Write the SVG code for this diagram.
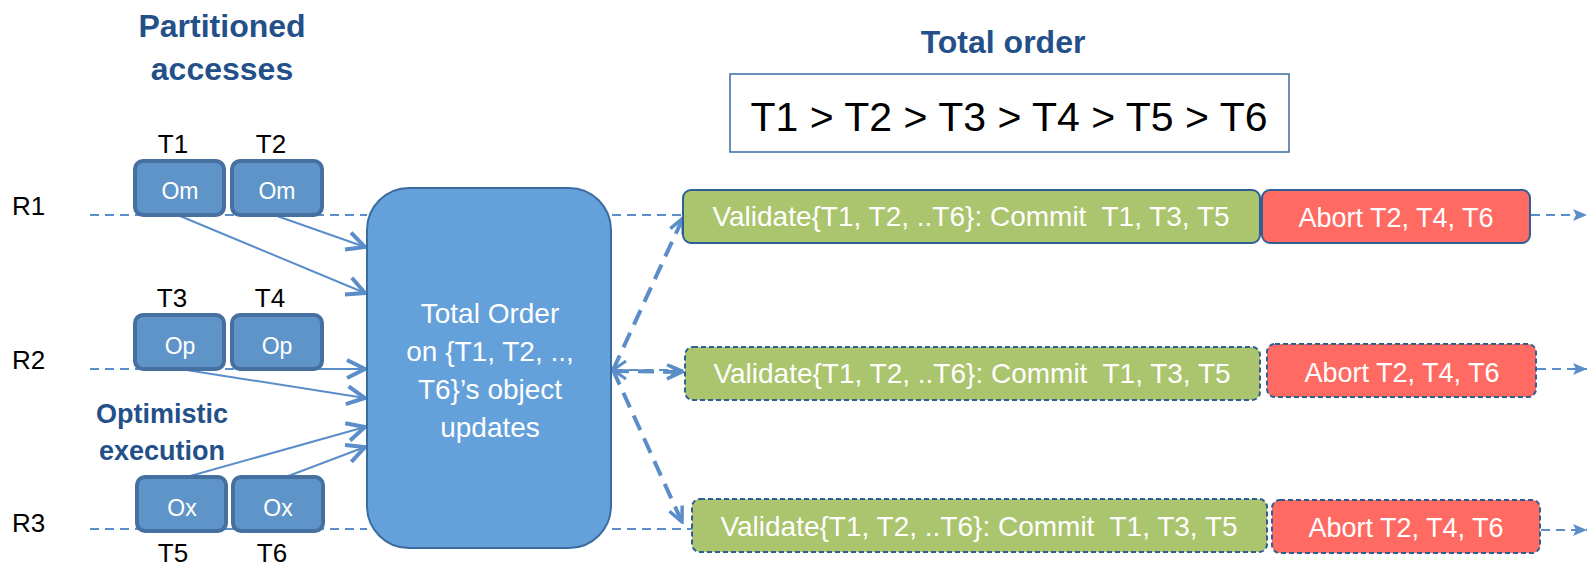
<svg xmlns="http://www.w3.org/2000/svg" width="1589" height="569" viewBox="0 0 1589 569">
<defs>
<style>
text{font-family:"Liberation Sans",Arial,sans-serif;}
.title{font-weight:bold;font-size:32px;fill:#24508a;text-anchor:middle;}
.sub{font-weight:bold;font-size:27px;fill:#24508a;text-anchor:middle;}
.lbl{font-size:26px;fill:#000;}
.tlbl{font-size:26px;fill:#000;text-anchor:middle;}
.small{stroke:#45709f;stroke-width:4;fill:#5f94c9;}
.smalltxt{font-size:23px;fill:#fff;text-anchor:middle;}
.big{stroke:#3a6ca2;stroke-width:2;fill:#64a0da;}
.bigtxt{font-size:28px;fill:#fff;text-anchor:middle;}
.green{fill:#abc46e;stroke:#2f5f94;stroke-width:2;}
.red{fill:#ff6a63;stroke:#2f5f94;stroke-width:2;}
.dash{stroke-dasharray:5,3;}
.boxtxt{font-size:28px;fill:#fff;text-anchor:middle;white-space:pre;}
.thin{stroke:#5b8ec9;stroke-width:2;fill:none;stroke-dasharray:9,6;}
.solid{stroke:#5b8ec9;stroke-width:2;fill:none;}
.thick{stroke:#5b8ec9;stroke-width:4;fill:none;stroke-dasharray:16,9;}
</style>
<marker id="chev" viewBox="0 0 24 24" refX="21" refY="12" markerWidth="24" markerHeight="24" markerUnits="userSpaceOnUse" orient="auto">
<path d="M3,3 L21,12 L3,21" fill="none" stroke="#5b8ec9" stroke-width="4" stroke-linejoin="miter"/>
</marker>
<marker id="chev2" viewBox="0 0 20 20" refX="18" refY="10" markerWidth="20" markerHeight="20" markerUnits="userSpaceOnUse" orient="auto">
<path d="M3,3 L18,10 L3,17" fill="none" stroke="#5b8ec9" stroke-width="3.5"/>
</marker>
<marker id="tri" viewBox="0 0 14 12" refX="14" refY="6" markerWidth="14" markerHeight="12" markerUnits="userSpaceOnUse" orient="auto">
<path d="M0,0 L14,6 L0,12 L3,6 Z" fill="#5b8ec9"/>
</marker>
</defs>
<rect width="1589" height="569" fill="#fff"/>

<g id="titles">
<text class="title" x="222" y="37">Partitioned</text>
<text class="title" x="222" y="80">accesses</text>
<text class="title" x="1003" y="53">Total order</text>
<text class="sub" x="162" y="423">Optimistic</text>
<text class="sub" x="162" y="460">execution</text>
</g>

<g id="row-labels">
<text class="lbl" x="12" y="215">R1</text>
<text class="lbl" x="12" y="369">R2</text>
<text class="lbl" x="12" y="532">R3</text>
</g>

<g id="connectors">
<line class="thin" x1="90" y1="215" x2="367" y2="215"/>
<line class="thin" x1="612" y1="215" x2="683" y2="215"/>
<line class="thin" x1="90" y1="369" x2="300" y2="369"/>
<line class="thin" x1="90" y1="529" x2="367" y2="529"/>
<line class="thin" x1="612" y1="529" x2="692" y2="529"/>
<line class="thin" x1="1531" y1="215" x2="1587" y2="215" marker-end="url(#tri)"/>
<line class="thin" x1="1537" y1="369" x2="1587" y2="369" marker-end="url(#tri)"/>
<line class="thin" x1="1541" y1="530" x2="1587" y2="530" marker-end="url(#tri)"/>
<line class="thin" x1="614" y1="370" x2="684" y2="370" marker-end="url(#tri)"/>
<path d="M626,361 L613,370 L626,379" fill="none" stroke="#5b8ec9" stroke-width="3"/>
<line class="solid" x1="180" y1="216" x2="365" y2="293" marker-end="url(#chev)"/>
<line class="solid" x1="277" y1="216" x2="365" y2="247" marker-end="url(#chev)"/>
<line class="solid" x1="300" y1="369" x2="365" y2="369" marker-end="url(#chev)"/>
<line class="solid" x1="180" y1="369" x2="365" y2="398" marker-end="url(#chev)"/>
<line class="solid" x1="183" y1="478" x2="365" y2="427" marker-end="url(#chev)"/>
<line class="solid" x1="283" y1="478" x2="365" y2="447" marker-end="url(#chev)"/>
<line class="thick" x1="613" y1="370" x2="683" y2="218" marker-end="url(#chev2)"/>
<line class="thick" x1="613" y1="371" x2="682" y2="372" marker-end="url(#chev2)"/>
<line class="thick" x1="613" y1="370" x2="682" y2="522" marker-end="url(#chev2)"/>
</g>

<g id="T1">
<text class="tlbl" x="173" y="153">T1</text>
<rect class="small" x="135" y="161" width="89" height="54" rx="8"/>
<text class="smalltxt" x="180" y="199">Om</text>
</g>
<g id="T2">
<text class="tlbl" x="271" y="153">T2</text>
<rect class="small" x="232" y="161" width="90" height="54" rx="8"/>
<text class="smalltxt" x="277" y="199">Om</text>
</g>
<g id="T3">
<text class="tlbl" x="172" y="307">T3</text>
<rect class="small" x="135" y="315" width="89" height="54" rx="8"/>
<text class="smalltxt" x="180" y="354">Op</text>
</g>
<g id="T4">
<text class="tlbl" x="270" y="307">T4</text>
<rect class="small" x="232" y="315" width="90" height="54" rx="8"/>
<text class="smalltxt" x="277" y="354">Op</text>
</g>
<g id="T5">
<rect class="small" x="137" y="477" width="89" height="54" rx="8"/>
<text class="smalltxt" x="182" y="516">Ox</text>
<text class="tlbl" x="173" y="562">T5</text>
</g>
<g id="T6">
<rect class="small" x="233" y="477" width="90" height="54" rx="8"/>
<text class="smalltxt" x="278" y="516">Ox</text>
<text class="tlbl" x="272" y="562">T6</text>
</g>

<g id="total-order-node">
<rect class="big" x="367" y="188" width="244" height="360" rx="42"/>
<text class="bigtxt" x="490" y="323">Total Order</text>
<text class="bigtxt" x="490" y="361">on {T1, T2, ..,</text>
<text class="bigtxt" x="490" y="399">T6}’s object</text>
<text class="bigtxt" x="490" y="437">updates</text>
</g>

<g id="order-box">
<rect x="730" y="74" width="559" height="78" fill="#fff" stroke="#3a6ca2" stroke-width="1.5"/>
<text x="1009" y="131" font-size="41" fill="#000" text-anchor="middle">T1 &gt; T2 &gt; T3 &gt; T4 &gt; T5 &gt; T6</text>
</g>

<g id="R1-validate">
<rect class="green" x="683" y="190" width="577" height="53" rx="8"/>
<text class="boxtxt" x="971" y="226">Validate{T1, T2, ..T6}: Commit  T1, T3, T5</text>
</g>
<g id="R1-abort">
<rect class="red" x="1262" y="190" width="268" height="53" rx="8"/>
<text class="boxtxt" x="1396" y="227" style="font-size:27px">Abort T2, T4, T6</text>
</g>
<g id="R2-validate">
<rect class="green dash" x="685" y="347" width="575" height="53" rx="8"/>
<text class="boxtxt" x="972" y="383">Validate{T1, T2, ..T6}: Commit  T1, T3, T5</text>
</g>
<g id="R2-abort">
<rect class="red dash" x="1267" y="344" width="269" height="53" rx="8"/>
<text class="boxtxt" x="1402" y="382" style="font-size:27px">Abort T2, T4, T6</text>
</g>
<g id="R3-validate">
<rect class="green dash" x="692" y="499" width="575" height="53" rx="8"/>
<text class="boxtxt" x="979" y="536">Validate{T1, T2, ..T6}: Commit  T1, T3, T5</text>
</g>
<g id="R3-abort">
<rect class="red dash" x="1272" y="500" width="268" height="53" rx="8"/>
<text class="boxtxt" x="1406" y="537" style="font-size:27px">Abort T2, T4, T6</text>
</g>
</svg>
